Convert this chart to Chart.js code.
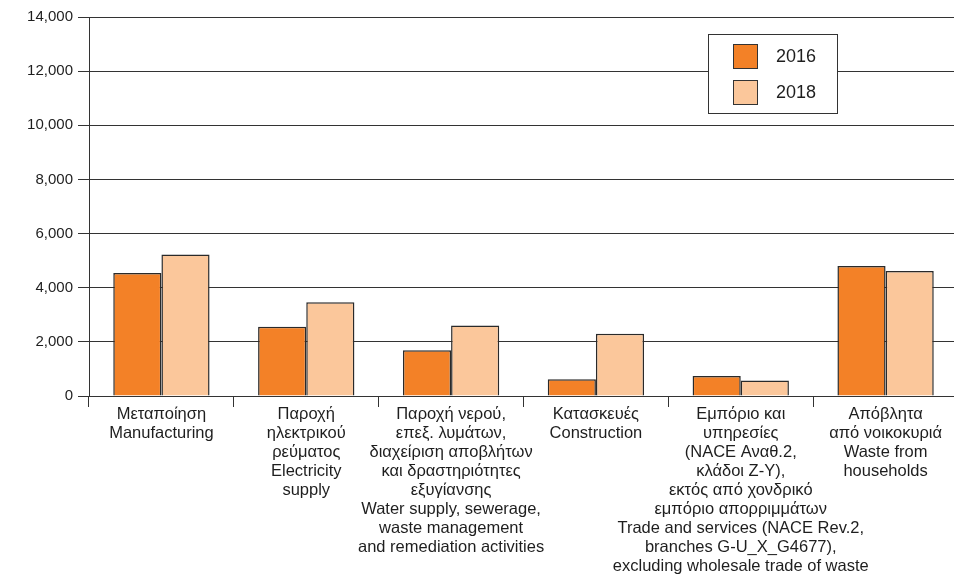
<!DOCTYPE html>
<html>
<head>
<meta charset="utf-8">
<script src="https://cdn.jsdelivr.net/npm/chart.js@4/dist/chart.umd.min.js"></script>
<style>
    html, body { margin: 0; padding: 0; background: #fff; overflow: hidden; }
    #wrap { width: 958px; height: 578px; position: relative; }
</style>
</head>
<body>
<div id="wrap"><canvas id="wasteChart"></canvas></div>
<script>
// Categories (Greek + English lines)
let categories = [
    ['Μεταποίηση', 'Manufacturing'],
    ['Παροχή', 'ηλεκτρικού', 'ρεύματος', 'Electricity', 'supply'],
    ['Παροχή νερού,', 'επεξ. λυμάτων,', 'διαχείριση αποβλήτων', 'και δραστηριότητες', 'εξυγίανσης',
        'Water supply, sewerage,', 'waste management', 'and remediation activities'],
    ['Κατασκευές', 'Construction'],
    ['Εμπόριο και', 'υπηρεσίες', '(NACE Αναθ.2,', 'κλάδοι Z-Y),', 'εκτός από χονδρικό', 'εμπόριο απορριμμάτων',
        'Trade and services (NACE Rev.2,', 'branches G-U_X_G4677),', 'excluding wholesale trade of waste'],
    ['Απόβλητα', 'από νοικοκυριά', 'Waste from', 'households']
];
let values2016 = [4540, 2560, 1690, 620, 740, 4800];
let values2018 = [5230, 3460, 2600, 2300, 570, 4620];
let yTicks = [0, 2000, 4000, 6000, 8000, 10000, 12000, 14000];

let fontFamily = '"Liberation Sans", Arial, Helvetica, sans-serif';

// Legend drawn in a framed box inside the plot area
let boxLegend = {
    id: 'boxLegend',
    afterDraw(chart) {
        let ctx = chart.ctx;
        let x = chart.chartArea.right - 250;
        let y = chart.chartArea.top + 17;
        ctx.save();
        ctx.fillStyle = '#fff';
        ctx.fillRect(x, y, 129, 79);
        ctx.strokeStyle = '#333';
        ctx.lineWidth = 1;
        ctx.strokeRect(x + 0.5, y + 0.5, 129, 79);
        chart.data.datasets.forEach((ds, i) => {
            let sy = y + 10 + i * 36;
            ctx.fillStyle = ds.backgroundColor;
            ctx.fillRect(x + 25, sy, 24, 24);
            ctx.strokeStyle = '#333';
            ctx.strokeRect(x + 25.5, sy + 0.5, 24, 24);
            ctx.fillStyle = '#1e1e1e';
            ctx.font = '18px ' + fontFamily;
            ctx.textBaseline = 'middle';
            ctx.fillText(ds.label, x + 68, sy + 13);
        });
        ctx.restore();
    }
};

var ctx = document.getElementById('wasteChart').getContext('2d');
var chart = new Chart(ctx, {
    type: 'bar',
    data: {
        labels: categories,
        datasets: [{
            label: '2016',
            data: values2016,
            backgroundColor: '#F38127',
            borderColor: '#2a2a2a',
            borderWidth: 1.5
        }, {
            label: '2018',
            data: values2018,
            backgroundColor: '#FBC79B',
            borderColor: '#2a2a2a',
            borderWidth: 1.5
        }]
    },
    options: {
        responsive: true,
        maintainAspectRatio: false,
        animation: false,
        categoryPercentage: 0.665,
        barPercentage: 1,
        layout: { padding: { top: 17, right: 0, left: 0, bottom: 0 } },
        plugins: {
            legend: { display: false },
            tooltip: { enabled: false }
        },
        scales: {
            x: {
                offset: true,
                grid: {
                    offset: true,
                    drawOnChartArea: false,
                    drawTicks: true,
                    tickLength: 11,
                    color: '#333'
                },
                border: { display: true, color: '#333' },
                ticks: {
                    maxRotation: 0,
                    autoSkip: false,
                    padding: -2,
                    color: '#1e1e1e',
                    font: { family: fontFamily, size: 16.5, lineHeight: 1.15 }
                },
                afterFit: function (scale) { scale.height = 182; }
            },
            y: {
                min: 0,
                max: 14000,
                afterBuildTicks: function (scale) {
                    scale.ticks = yTicks.map(v => ({ value: v }));
                },
                grid: {
                    color: '#333',
                    lineWidth: 1,
                    tickLength: 11
                },
                border: { display: true, color: '#333' },
                ticks: {
                    padding: 5,
                    color: '#1e1e1e',
                    font: { family: fontFamily, size: 15 },
                    callback: function (v) { return v.toLocaleString('en-US'); }
                },
                afterFit: function (scale) { scale.width = 89; }
            }
        }
    },
    plugins: [boxLegend]
});
</script>
</body>
</html>
